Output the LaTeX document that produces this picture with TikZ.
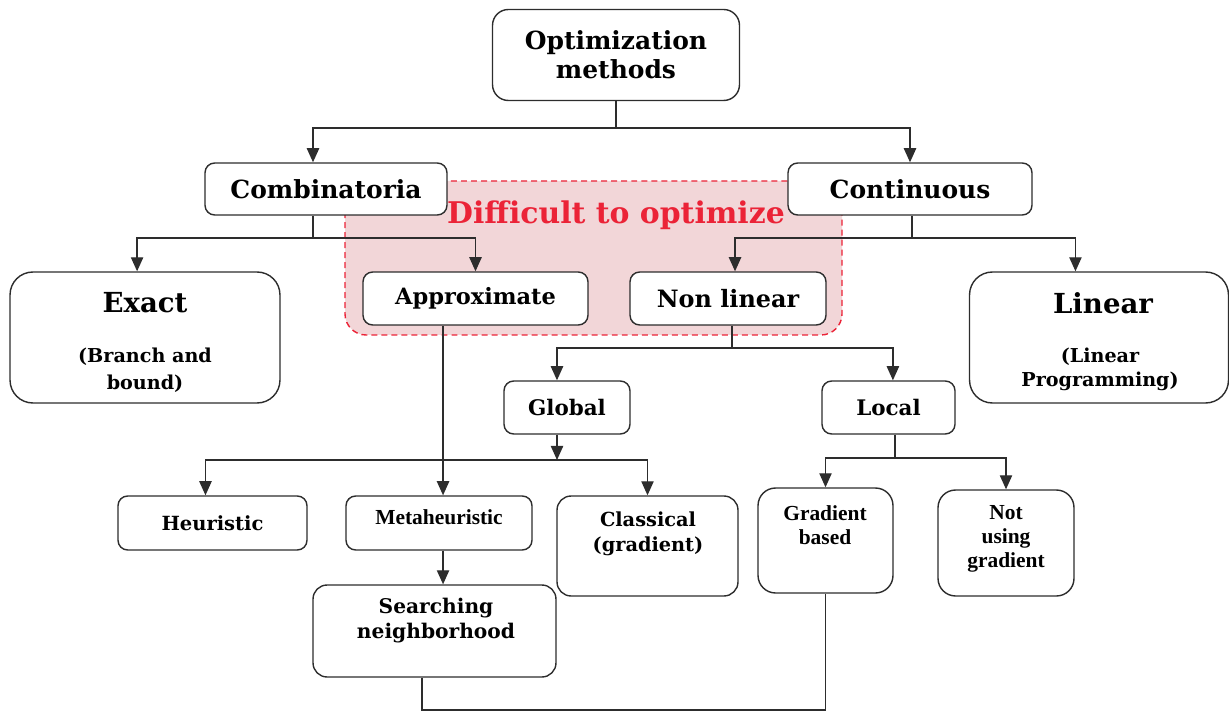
\documentclass[tikz,border=0pt]{standalone}
\usepackage{fontspec}
\setmainfont{DejaVu Serif}
\newfontfamily\timesfont{Liberation Serif}
\usepackage{xcolor}
\usepackage{tikz}
\usetikzlibrary{positioning}
\usetikzlibrary{arrows.meta}
\definecolor{linegray}{RGB}{45,45,45}
\definecolor{hardfill}{RGB}{242,214,216}
\definecolor{hardred}{RGB}{235,35,55}
\tikzset{link/.style = {-{Triangle[length=8pt,width=7pt]}}}

\begin{document}
\begin{tikzpicture}[x=0.02cm,y=-0.02cm,line width=0.8pt,draw=linegray,
    box/.style={draw=linegray,fill=white,rounded corners=5.5pt,align=center,inner sep=0pt,font=\fontsize{14.2}{16.5}\selectfont\bfseries},
    bigbox/.style={box,rounded corners=13pt},
    boxtext/.style={align=center,inner sep=0pt,font=\fontsize{11}{13}\selectfont\bfseries},
    timesword/.style={align=center,inner sep=0pt,font=\timesfont\fontsize{12.2}{13.6}\selectfont\bfseries}]
    \useasboundingbox (0,0) rectangle (1229,712);

    % zone that is hard to optimize
    \draw[hardred,fill=hardfill,dash pattern=on 3.4pt off 2.3pt,rounded corners=12pt] (345,181) rectangle (842,335);
    \node[text=hardred,font=\fontsize{17}{19}\selectfont\bfseries] (hard) at (616,215) {Difficult to optimize};

    \node[box,minimum width=4.94cm,minimum height=1.82cm,rounded corners=9pt] (opt) at (616,55) {Optimization\\methods};
    \node[box,minimum width=4.84cm,minimum height=1.04cm] (comb) at (326,189) {Combinatoria};
    \node[box,minimum width=4.88cm,minimum height=1.04cm] (cont) at (910,189) {Continuous};

    \node[bigbox,minimum width=5.4cm,minimum height=2.62cm] (exact) at (145,337.5) {};
    \node[boxtext,font=\fontsize{15.7}{18}\selectfont\bfseries] (exact title) at (145,303) {Exact};
    \node[boxtext,font=\fontsize{10.9}{15.5}\selectfont\bfseries] (exact text) at (145,370) {(Branch and\\bound)};
    \node[box,minimum width=4.5cm,minimum height=1.06cm,font=\fontsize{12.8}{15}\selectfont\bfseries] (approx) at (475.5,298.5) {Approximate};
    \node[box,minimum width=3.92cm,minimum height=1.06cm,font=\fontsize{13.6}{15}\selectfont\bfseries] (nonlin) at (728,298.5) {Non linear};
    \node[bigbox,minimum width=5.18cm,minimum height=2.62cm] (linear) at (1099,337.5) {};
    \node[boxtext,font=\fontsize{15.7}{18}\selectfont\bfseries] (linear title) at (1103,303) {Linear};
    \node[boxtext,font=\fontsize{10.9}{13.8}\selectfont\bfseries] (linear text) at (1100,369) {(Linear\\Programming)};

    \node[box,minimum width=2.52cm,minimum height=1.06cm,font=\fontsize{12.2}{15}\selectfont\bfseries] (global) at (567,407.5) {Global};
    \node[box,minimum width=2.66cm,minimum height=1.06cm,font=\fontsize{12.2}{15}\selectfont\bfseries] (local) at (888.5,407.5) {Local};

    \node[box,minimum width=3.78cm,minimum height=1.08cm,font=\fontsize{11.1}{13}\selectfont\bfseries] (heuristic) at (212.5,523) {Heuristic};
    \node[box,minimum width=3.72cm,minimum height=1.08cm] (meta) at (439,523) {};
    \node[timesword] (meta text) at (439,517) {Metaheuristic};
    \node[box,minimum width=3.62cm,minimum height=2.0cm,rounded corners=8pt] (classical) at (647.5,546) {};
    \node[boxtext,font=\fontsize{11}{14.2}\selectfont\bfseries] (classical text) at (648,534) {Classical\\(gradient)};
    \node[box,minimum width=2.7cm,minimum height=2.1cm,rounded corners=10pt] (gradbased) at (825.5,540.5) {};
    \node[timesword] (gradbased text) at (825,525) {Gradient\\based};
    \node[box,minimum width=2.72cm,minimum height=2.12cm,rounded corners=10pt] (notusing) at (1006,543) {};
    \node[timesword] (notusing text) at (1006,539) {Not\\using\\gradient};
    \node[box,minimum width=4.86cm,minimum height=1.84cm,rounded corners=8pt] (search) at (434.5,631) {};
    \node[boxtext,font=\fontsize{11.5}{14.2}\selectfont\bfseries] (search text) at (436,621) {Searching\\neighborhood};

    % forks
    \coordinate (top fork) at (616,128);
    \coordinate (comb fork) at (313,238);
    \coordinate (cont fork) at (912,238);
    \coordinate (nl fork) at (732,348);
    \coordinate (gl fork) at (557,460);
    \coordinate (lc fork) at (895,458);
    \coordinate (low left) at (422,710);

    \draw (opt.south) -- (top fork);
    \draw[link] (top fork) -| ([xshift=-7.4pt]comb.north);
    \draw[link] (top fork) -| (cont.north);

    \draw (comb.south -| comb fork) -- (comb fork);
    \draw[link] (comb fork) -| ([xshift=-4.5pt]exact.north);
    \draw[link] (comb fork) -| (approx.north);

    \draw (cont.south -| cont fork) -- (cont fork);
    \draw[link] (cont fork) -| ([xshift=4pt]nonlin.north);
    \draw[link] (cont fork) -| ([xshift=-13.4pt]linear.north);

    \draw (nonlin.south -| nl fork) -- (nl fork);
    \draw[link] (nl fork) -| ([xshift=-5.7pt]global.north);
    \draw[link] (nl fork) -| ([xshift=2.5pt]local.north);

    \draw[link] (global.south -| gl fork) -- (gl fork);
    \draw[link] (gl fork) -| ([xshift=-4pt]heuristic.north);
    \draw[link] (gl fork) -| (classical.north);

    \draw[link] ([xshift=2.3pt]approx.south -| meta.north) -- ([xshift=2.3pt]meta.north);
    \draw[link] ([xshift=2.3pt]meta.south) -- ([xshift=2.3pt]meta.south |- search.north);

    \draw (local.south -| lc fork) -- (lc fork);
    \draw[link] (lc fork) -| (gradbased.north);
    \draw[link] (lc fork) -| (notusing.north);

    \draw (search.south -| low left) -- (low left) -| (gradbased.south);
\end{tikzpicture}
\end{document}
